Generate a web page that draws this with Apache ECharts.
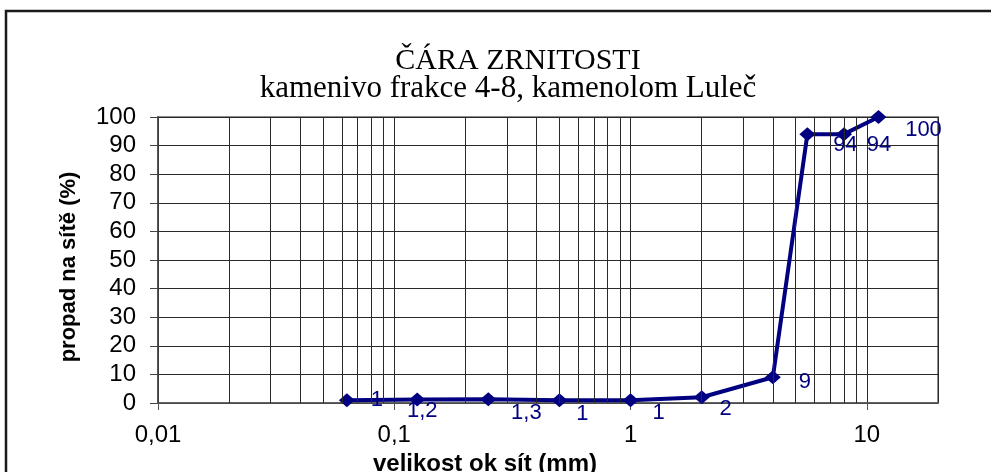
<!DOCTYPE html>
<html>
<head>
<meta charset="utf-8">
<script src="https://cdn.jsdelivr.net/npm/echarts@6/dist/echarts.min.js"></script>
<style>
  html, body { margin: 0; padding: 0; background: #fff; }
  #chart { width: 991px; height: 472px; }
</style>
</head>
<body>
<div id="chart"></div>
<script>
// velikost ok sít (mm) a propad (%)
const sieveSizes = [0.063, 0.125, 0.25, 0.5, 1, 2, 4, 5.6, 8, 11.2]
const passing = [1, 1.2, 1.3, 1, 1, 2, 9, 94, 94, 100]
const passingLabels = ['1', '1,2', '1,3', '1', '1', '2', '9', '94', '94', '100']

// posun popisků (jako v Excelu ručně posunuté)
const labelOffsets = [[30, 0], [5, 11], [38, 14], [23, 14], [28, 13], [24, 12], [32, 5], [38, 11], [35, 11], [45, 13]]

// vedlejší svislé čáry mřížky 2..9 v každé dekádě
const decades = [0.01, 0.1, 1]
const multipliers = [2, 3, 4, 5, 6, 7, 8, 9]
const minorGrid = []
decades.forEach(d => multipliers.forEach(m => minorGrid.push(+(d * m).toPrecision(3))))

const FONT = 'Liberation Sans, Arial, sans-serif'
const SERIF = '"Liberation Serif", "Times New Roman", serif'
const NAVY = '#000080'

const chart = echarts.init(document.getElementById('chart'))

chart.setOption({
  animation: false,
  backgroundColor: '#fff',
  graphic: [
    {
      type: 'rect',
      shape: { x: 6, y: 11, width: 1000, height: 500 },
      style: { fill: 'none', stroke: '#1a1a1a', lineWidth: 2.5 },
      silent: true
    },
    {
      type: 'text', x: 518, y: 61,
      style: { text: 'ČÁRA ZRNITOSTI', textAlign: 'center', textVerticalAlign: 'middle',
        font: '30px ' + SERIF, fill: '#000' }
    },
    {
      type: 'text', x: 508, y: 89,
      style: { text: 'kamenivo frakce 4-8, kamenolom Luleč', textAlign: 'center', textVerticalAlign: 'middle',
        font: '31px ' + SERIF, fill: '#000' }
    }
  ],
  grid: {
    left: 158,
    right: 53,
    top: 117,
    bottom: 69,
    outerBoundsMode: 'none',
    containLabel: false,
    show: true,
    borderColor: '#8c8c8c',
    borderWidth: 2
  },
  xAxis: {
    type: 'log',
    logBase: 10,
    min: 0.01,
    max: 20,
    name: 'velikost ok sít (mm)',
    nameLocation: 'middle',
    nameGap: 46,
    nameTextStyle: {
      fontFamily: FONT,
      fontWeight: 'bold',
      fontSize: 24,
      color: '#000',
      padding: [0, 126, 0, 0]
    },
    axisLine: { lineStyle: { color: '#555', width: 1.5 } },
    axisTick: { show: true, length: 7, lineStyle: { color: '#555' } },
    axisLabel: {
      fontFamily: FONT,
      fontSize: 24,
      color: '#000',
      margin: 20,
      showMaxLabel: false,
      formatter: function(v) {
        if (v > 15) return ''
        return String(+v.toPrecision(6)).replace('.', ',')
      }
    },
    splitLine: { show: true, lineStyle: { color: '#2a2a2a', width: 1 } }
  },
  yAxis: {
    type: 'value',
    min: 0,
    max: 100,
    interval: 10,
    name: 'propad na sítě (%)',
    nameLocation: 'middle',
    nameGap: 78,
    nameTextStyle: {
      fontFamily: FONT,
      fontWeight: 'bold',
      fontSize: 22,
      color: '#000',
      padding: [0, 14, 0, 0]
    },
    axisLine: { show: true, lineStyle: { color: '#444', width: 1.5 } },
    axisTick: { show: true, length: 8, lineStyle: { color: '#444' } },
    axisLabel: { fontFamily: FONT, fontSize: 24, color: '#000', margin: 22 },
    splitLine: { show: true, lineStyle: { color: '#2a2a2a', width: 1 } }
  },
  series: [
    {
      type: 'line',
      data: [],
      z: 1,
      markLine: {
        silent: true,
        symbol: ['none', 'none'],
        label: { show: false },
        lineStyle: { color: '#2a2a2a', width: 1, type: 'solid' },
        emphasis: { disabled: true },
        data: minorGrid.map(v => ({ xAxis: v }))
      }
    },
    {
      name: 'propad',
      type: 'line',
      z: 3,
      data: sieveSizes.map((x, i) => ({
        value: [x, passing[i]],
        label: { offset: labelOffsets[i] }
      })),
      symbol: 'diamond',
      symbolSize: [16, 14],
      lineStyle: { color: NAVY, width: 4 },
      itemStyle: { color: NAVY },
      label: {
        show: true,
        position: 'inside',
        fontFamily: FONT,
        fontSize: 22,
        color: NAVY,
        formatter: p => passingLabels[p.dataIndex]
      },
      emphasis: { disabled: true }
    }
  ]
})
</script>
</body>
</html>
